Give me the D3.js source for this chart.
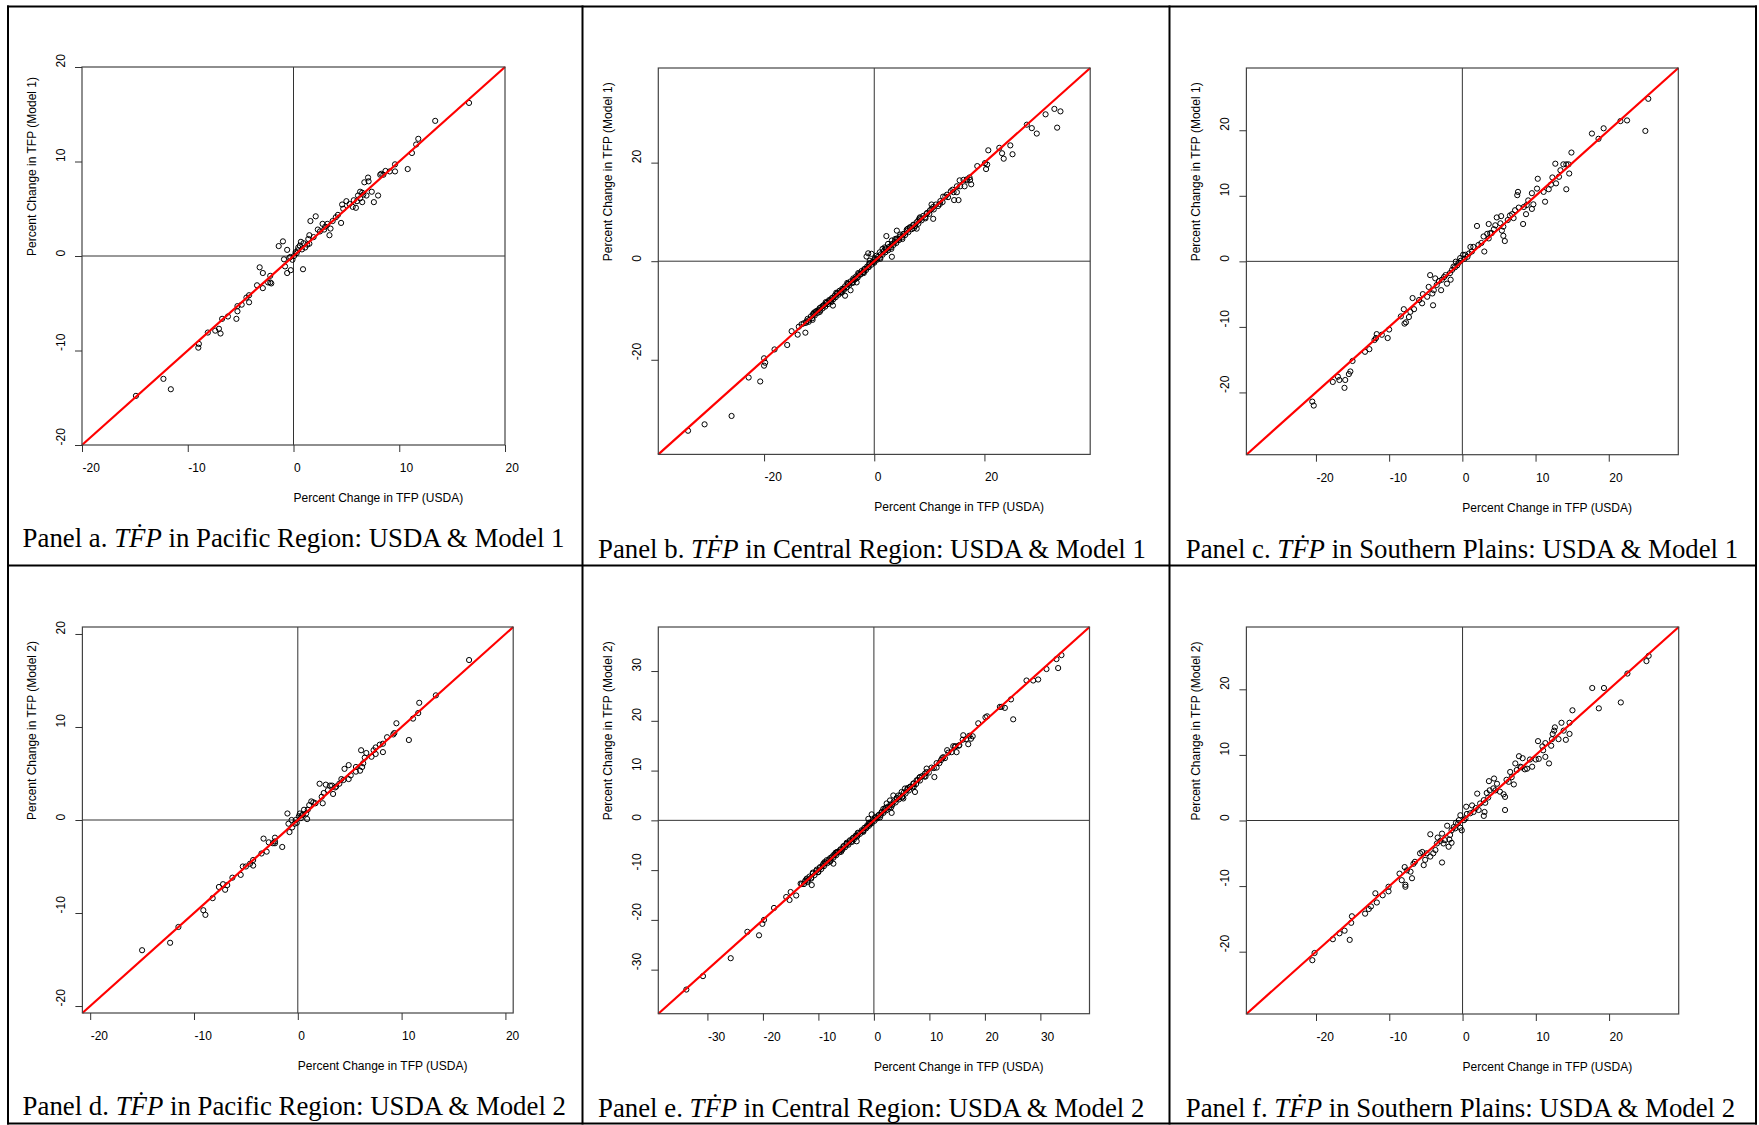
<!DOCTYPE html>
<html>
<head>
<meta charset="utf-8">
<script src="https://cdn.jsdelivr.net/npm/d3@7"></script>
<style>
  body { margin: 0; background: #fff; }
  text { font-family: "Liberation Sans", Arial, sans-serif; }
</style>
</head>
<body>
<svg id="chart" width="1759" height="1125"></svg>
<script>
// ---- data: [USDA, model] percent changes ----
const pacificM1 = [
  [16.6,16.2],[13.4,14.3],[11.8,12.4],[11.6,11.8],[11.2,10.9],[10.8,9.2],[9.6,9.7],[9.6,8.95],[9.1,8.95],[8.7,9.0],
  [8.3,8.7],[8.2,8.6],[7.05,8.3],[7.1,7.9],[7.4,6.8],[8.0,6.4],[7.6,5.7],[6.7,7.8],[6.5,6.7],[6.3,6.8],
  [6.1,6.4],[6.3,6.1],[6.5,5.7],[6.9,6.4],[6.0,5.8],[5.7,5.9],[5.6,5.2],[5.9,5.1],[5.0,5.8],[4.6,5.45],
  [4.7,5.0],[4.5,3.5],[4.2,4.35],[4.0,4.1],[3.7,3.7],[3.5,2.9],[3.4,2.2],[3.2,3.4],[2.9,2.8],[2.75,3.4],
  [2.5,2.6],[2.3,2.8],[2.1,4.2],[1.6,3.7],[1.5,2.2],[1.4,1.8],[1.3,1.2],[1.5,1.3],[0.95,1.35],[0.7,1.5],
  [0.6,1.1],[0.45,0.9],[0.4,0.6],[0.3,0.3],[0.05,0.0],[-0.1,-0.4],[-0.6,0.65],[-1.0,1.55],[-1.4,1.05],[-0.9,-0.35],
  [-0.3,-0.1],[-0.26,-1.5],[-0.6,-1.8],[-0.8,-1.1],[0.9,-1.4],[-3.2,-1.2],[-2.9,-1.8],[-2.2,-2.1],[-2.1,-2.9],[-2.2,-2.8],
  [-2.4,-2.8],[-3.45,-3.1],[-2.9,-3.4],[-4.2,-4.15],[-4.45,-4.4],[-4.2,-4.9],[-4.9,-5.15],[-5.3,-5.3],[-5.3,-5.85],[-6.2,-6.4],
  [-6.75,-6.65],[-5.4,-6.65],[-7.05,-7.7],[-7.4,-7.9],[-6.9,-8.2],[-8.1,-8.1],[-8.95,-9.3],[-9.0,-9.7],[-12.3,-13.0],[-11.6,-14.1],
  [-14.9,-14.8],[0.2,0.4],[0.8,0.7],[1.1,0.9],[3.0,3.1],[5.3,5.5],[6.6,6.5],[8.5,8.6],[-0.4,-0.2],[1.9,2.0]
];

const centralM1 = [
  [33.8,30.4],[32.7,30.9],[33.2,27.1],[31.1,29.8],[29.5,25.9],[28.6,27.0],[27.7,27.7],[24.7,23.5],[25.1,21.7],[23.5,20.8],
  [23.2,21.9],[22.7,23.0],[20.7,22.5],[20.3,18.7],[20.5,19.6],[20.1,19.9],[18.7,19.3],[17.6,15.6],[17.4,16.5],[16.8,16.6],
  [16.4,15.2],[15.5,16.4],[15.3,12.4],[14.5,12.4],[15.0,14.0],[14.2,14.5],[13.2,13.5],[12.5,13.1],[11.9,11.6],[10.7,11.0],
  [10.4,11.5],[10.7,8.6],[10.1,10.3],[9.5,9.6],[8.3,8.9],[8.0,8.25],[7.7,6.6],[7.1,7.4],[6.5,6.9],[5.9,6.4],
  [5.3,5.5],[4.7,5.4],[4.1,6.2],[3.8,4.5],[3.2,4.2],[2.2,5.1],[2.5,3.5],[1.9,2.8],[3.2,0.9],[1.5,2.5],
  [1.0,1.8],[0.4,1.1],[-0.2,-0.2],[-1.1,1.6],[-1.4,0.95],[-0.5,1.5],[-0.8,0.1],[-1.1,-1.2],[-1.7,-1.6],[-2.0,-2.2],
  [-2.6,-2.7],[-3.2,-3.4],[-3.2,-4.3],[-3.8,-3.8],[-4.3,-5.9],[-4.7,-4.6],[-5.3,-7.0],[-5.6,-5.6],[-6.2,-6.3],[-6.8,-6.6],
  [-7.5,-9.0],[-7.5,-7.4],[-8.1,-8.0],[-8.7,-8.5],[-9.3,-9.0],[-9.9,-9.5],[-10.5,-10.1],[-11.1,-10.7],[-11.2,-11.9],[-12.3,-12.2],
  [-12.5,-14.5],[-13.2,-12.8],[-13.7,-13.3],[-13.9,-14.9],[-15.0,-14.2],[-15.8,-17.0],[-18.1,-17.9],[-20.0,-19.7],[-19.8,-20.6],[-20.0,-21.2],
  [-22.8,-23.6],[-20.7,-24.4],[-25.9,-31.4],[-30.8,-33.1],[-33.8,-34.4],
  // dense band along the diagonal
  [-12.8,-12.6],[-12.4,-12.5],[-12.1,-11.7],[-11.8,-11.9],[-11.5,-11.2],[-11.3,-11.6],[-11.0,-10.8],[-10.8,-11.0],[-10.6,-10.3],[-10.3,-10.5],
  [-10.1,-9.9],[-9.8,-10.0],[-9.6,-9.3],[-9.4,-9.6],[-9.1,-8.9],[-8.9,-9.2],[-8.6,-8.4],[-8.4,-8.7],[-8.2,-7.9],[-7.9,-8.1],
  [-7.7,-7.5],[-7.4,-7.7],[-7.2,-7.0],[-7.0,-7.3],[-6.7,-6.5],[-6.5,-6.8],[-6.3,-6.0],[-6.0,-6.2],[-5.8,-5.6],[-5.5,-5.8],
  [-5.3,-5.1],[-5.0,-5.3],[-4.8,-4.6],[-4.5,-4.8],[-4.3,-4.1],[-4.0,-4.3],[-3.8,-3.5],[-3.5,-3.7],[-3.3,-3.1],[-3.0,-3.3],
  [-2.8,-2.6],[-2.5,-2.7],[-2.3,-2.0],[-2.0,-2.2],[-1.8,-1.6],[-1.5,-1.8],[-1.3,-1.1],[-1.0,-1.2],[-0.8,-0.5],[-0.5,-0.7],
  [-0.3,-0.1],[0.0,-0.3],[0.2,0.4],[0.5,0.3],[0.7,0.9],[1.0,0.7],[1.2,1.4],[1.5,1.3],[1.7,2.0],[2.0,1.8],
  [2.2,2.4],[2.5,2.2],[2.7,2.9],[3.0,2.8],[3.2,3.5],[3.5,3.3],[3.7,3.9],[4.0,3.7],[4.2,4.4],[4.5,4.3],
  [4.7,5.0],[5.0,4.8],[5.3,5.5],[5.6,5.3],[5.9,6.1],[6.2,5.9],[6.5,6.8],[6.8,6.5],[7.1,7.3],[7.4,7.1],
  [7.7,7.9],[8.0,7.6],[8.3,8.5],[8.6,8.3],[8.9,9.2],[9.2,8.9],[9.6,9.8],[10.0,9.6],[10.4,10.6],[10.8,10.5],
  [11.2,11.5],[11.6,11.2],[12.0,12.2],[12.4,12.0],[12.9,13.1],[13.4,13.0],[13.9,14.2],[14.4,14.0],[15.0,15.2],[15.6,15.2],
  [16.2,16.5],[16.8,16.4],[17.3,17.0],
  [-11.9,-12.3],[-10.9,-10.4],[-9.9,-10.3],[-8.8,-8.3],[-7.8,-8.3],[-6.9,-6.4],[-5.9,-6.4],[-4.9,-4.4],[-3.9,-4.4],[-2.9,-2.4],
  [-1.9,-2.4],[-0.9,-0.4],[0.1,0.6],[1.1,0.5],[2.1,2.6],[3.1,2.5],[4.1,4.6],[5.1,4.5],[6.1,6.6],[7.2,6.7],[8.2,8.7],[9.3,8.7]
];

const southernM1 = [
  [25.4,24.8],[25.0,19.9],[22.5,21.5],[21.6,21.4],[19.3,20.3],[18.6,18.7],[17.7,19.5],[14.9,16.6],[14.6,13.4],[14.2,11.0],
  [14.5,14.8],[14.2,14.8],[13.8,14.8],[13.4,13.9],[12.7,14.9],[13.2,12.9],[12.8,11.9],[12.3,12.8],[12.1,11.7],[11.8,11.0],
  [11.1,10.6],[11.3,9.1],[10.3,12.6],[10.2,11.1],[9.5,10.4],[9.7,8.7],[9.5,8.0],[8.8,8.6],[8.4,8.3],[8.7,7.2],
  [8.3,5.7],[7.6,10.6],[7.5,10.1],[7.7,8.2],[7.2,7.8],[7.0,6.6],[6.5,7.0],[6.2,6.3],[5.3,6.9],[4.7,6.7],
  [5.6,5.3],[5.6,3.9],[5.8,3.1],[5.4,4.7],[5.2,5.8],[4.5,5.5],[4.3,4.9],[3.6,5.7],[3.8,4.3],[3.4,4.2],
  [3.6,3.5],[2.9,3.8],[3.0,1.5],[2.0,5.4],[2.2,2.5],[1.5,2.2],[1.3,1.5],[1.1,2.2],[0.7,0.7],[0.4,1.0],
  [0.1,1.0],[-0.3,0.5],[-0.5,-0.2],[-0.9,-0.05],[-0.7,-0.6],[-1.2,-0.8],[-1.4,-1.3],[-1.6,-2.8],[-1.7,-1.8],[-2.3,-2.1],
  [-2.1,-3.4],[-2.8,-2.8],[-2.9,-4.4],[-3.5,-3.6],[-3.7,-2.6],[-3.9,-4.4],[-4.4,-2.1],[-4.1,-4.9],[-4.6,-3.9],[-4.0,-6.7],
  [-4.8,-5.4],[-5.4,-5.0],[-5.5,-6.4],[-5.9,-5.9],[-6.6,-7.3],[-6.8,-5.6],[-7.1,-7.7],[-7.3,-8.5],[-7.7,-9.3],[-7.9,-9.5],
  [-8.0,-7.3],[-8.4,-8.4],[-10.0,-10.4],[-10.2,-11.7],[-11.0,-11.2],[-11.7,-11.1],[-11.8,-11.7],[-12.0,-12.0],[-12.7,-13.4],[-13.3,-13.8],
  [-15.0,-15.2],[-15.3,-16.8],[-15.5,-17.2],[-16.0,-18.1],[-16.1,-19.3],[-16.8,-18.1],[-17.0,-17.6],[-17.7,-18.4],[-20.5,-21.4],[-20.3,-22.0],
  [0.3,0.4],[-0.2,0.1],[0.9,1.2],[-1.0,-0.9],[-2.5,-2.4],[-3.2,-3.0],[2.6,2.8],[4.0,4.3],[6.8,7.2],[9.0,9.3]
];

const pacificM2 = [
  [16.5,17.2],[13.3,13.4],[11.7,12.6],[11.6,11.5],[11.1,10.9],[10.7,8.6],[9.5,10.4],[9.3,9.35],[9.2,9.2],[8.6,8.9],
  [8.2,7.3],[8.2,8.2],[7.9,8.1],[7.5,7.8],[7.3,7.5],[7.5,7.1],[7.1,6.8],[6.6,7.2],[6.45,6.7],[6.1,7.5],
  [6.3,6.1],[6.2,5.7],[6.0,5.3],[5.6,5.7],[5.6,5.2],[5.1,4.8],[4.9,5.9],[4.5,5.5],[4.9,4.4],[4.4,4.3],
  [4.2,4.4],[4.0,3.9],[3.7,3.6],[3.3,3.7],[3.1,3.7],[3.4,2.8],[2.7,3.8],[2.9,3.2],[2.1,3.9],[2.5,2.9],
  [2.3,2.5],[2.4,1.8],[1.5,1.9],[1.3,2.0],[1.1,1.6],[0.96,1.1],[0.8,0.7],[0.6,1.1],[0.4,0.5],[0.2,0.7],
  [0.1,0.4],[0.9,0.1],[-0.2,0.0],[-0.3,-0.4],[-0.6,0.0],[-0.55,-0.8],[-0.8,-1.3],[-1.0,0.7],[-0.9,-0.4],[-1.5,-2.9],
  [-2.2,-1.9],[-2.2,-2.3],[-2.2,-2.5],[-2.4,-2.5],[-2.8,-2.4],[-3.3,-2.0],[-3.0,-3.4],[-3.5,-3.6],[-4.3,-4.3],[-4.3,-4.9],
  [-4.6,-4.7],[-5.0,-5.0],[-5.3,-5.0],[-5.5,-5.9],[-6.3,-6.2],[-6.8,-7.0],[-7.0,-7.5],[-7.2,-6.9],[-7.6,-7.2],[-8.2,-8.4],
  [-9.1,-9.7],[-8.9,-10.2],[-11.5,-11.5],[-12.3,-13.2],[-15.0,-14.0],[0.3,0.2],[0.5,0.6],[-0.1,-0.3],[1.7,1.8],[3.6,3.5]
];

const centralM2 = [
  [33.8,33.2],[32.9,32.4],[33.2,30.6],[31.1,30.4],[29.6,28.3],[28.7,28.1],[27.5,28.1],[25.1,20.3],[24.7,24.3],[23.6,22.6],
  [23.0,22.8],[22.7,22.8],[20.4,20.9],[20.1,20.7],[18.8,19.5],[17.8,16.9],[17.5,16.4],[17.0,15.3],[16.1,17.1],[15.4,15.1],
  [14.9,13.7],[14.6,14.8],[14.3,14.9],[13.2,14.1],[12.5,12.7],[12.1,12.1],[10.9,8.7],[11.3,10.6],[9.5,10.4],[9.2,9.4],
  [8.3,8.7],[7.7,8.05],[7.4,5.7],[7.1,7.4],[6.5,6.7],[5.6,6.4],[5.3,4.4],[5.0,5.7],[4.4,5.0],[3.5,5.0],
  [3.2,1.5],[2.9,4.0],[2.3,3.4],[1.7,2.3],[1.4,1.7],[0.8,1.0],[-0.4,1.2],[-1.0,0.3],[-0.7,-0.7],[-1.3,-1.3],
  [-1.9,-2.0],[-3.1,-4.2],[-3.1,-3.0],[-3.7,-3.5],[-4.3,-4.0],[-4.9,-4.8],[-5.5,-5.2],[-6.1,-6.0],[-6.7,-6.4],[-7.3,-8.7],
  [-7.3,-7.0],[-7.9,-7.6],[-8.5,-8.0],[-9.1,-8.7],[-9.7,-9.4],[-10.3,-9.9],[-11.2,-13.0],[-11.3,-11.7],[-12.1,-11.7],[-12.4,-12.2],
  [-13.2,-12.7],[-14.0,-15.1],[-15.0,-14.4],[-15.2,-16.0],[-15.8,-15.4],[-18.0,-17.6],[-19.8,-20.0],[-20.1,-20.8],[-22.8,-22.4],[-20.7,-23.1],
  [-25.8,-27.7],[-30.8,-31.3],[-33.8,-34.0],
  // dense band along the diagonal
  [-13.0,-12.8],[-12.6,-12.8],[-12.2,-11.9],[-11.9,-12.1],[-11.6,-11.3],[-11.3,-11.5],[-11.0,-10.7],[-10.7,-11.0],[-10.4,-10.2],[-10.1,-10.4],
  [-9.8,-9.6],[-9.5,-9.8],[-9.2,-9.0],[-9.0,-9.2],[-8.7,-8.5],[-8.4,-8.6],[-8.1,-7.9],[-7.8,-8.1],[-7.6,-7.4],[-7.3,-7.5],
  [-7.0,-6.8],[-6.8,-7.0],[-6.5,-6.3],[-6.2,-6.4],[-6.0,-5.8],[-5.7,-5.9],[-5.4,-5.2],[-5.2,-5.4],[-4.9,-4.7],[-4.6,-4.9],
  [-4.4,-4.2],[-4.1,-4.3],[-3.8,-3.6],[-3.6,-3.8],[-3.3,-3.1],[-3.0,-3.2],[-2.8,-2.6],[-2.5,-2.7],[-2.2,-2.0],[-2.0,-2.2],
  [-1.7,-1.5],[-1.4,-1.6],[-1.2,-1.0],[-0.9,-1.1],[-0.6,-0.4],[-0.4,-0.6],[-0.1,0.1],[0.1,-0.1],[0.4,0.6],[0.6,0.4],
  [0.9,1.1],[1.2,1.0],[1.4,1.6],[1.7,1.5],[2.0,2.2],[2.2,2.0],[2.5,2.7],[2.8,2.6],[3.0,3.2],[3.3,3.1],
  [3.6,3.8],[3.9,3.6],[4.2,4.4],[4.5,4.2],[4.8,5.0],[5.1,4.8],[5.4,5.6],[5.7,5.4],[6.0,6.2],[6.3,6.0],
  [6.6,6.8],[6.9,6.6],[7.2,7.4],[7.6,7.3],[7.9,8.1],[8.3,8.0],[8.7,8.9],[9.1,8.8],[9.5,9.7],[9.9,9.6],
  [10.4,10.6],[10.8,10.5],[11.3,11.5],[11.8,11.5],[12.3,12.5],[12.8,12.5],[13.4,13.6],[14.0,13.7],[14.7,14.9],[15.3,15.0],
  [16.0,16.2],[16.6,16.3],[17.2,17.0],
  [-12.0,-12.4],[-11.0,-10.5],[-10.0,-10.4],[-8.9,-8.4],[-7.9,-8.3],[-6.9,-6.5],[-5.9,-6.3],[-4.9,-4.5],[-3.9,-4.3],[-2.9,-2.5],
  [-1.9,-2.3],[-0.9,-0.5],[0.2,0.6],[1.1,0.6],[2.1,2.5],[3.1,2.6],[4.1,4.5],[5.1,4.6],[6.1,6.5],[7.2,6.8],[8.2,8.6],[9.3,8.8]
];

const southernM2 = [
  [25.4,25.1],[25.1,24.3],[22.5,22.4],[21.6,18.0],[19.3,20.2],[18.6,17.1],[17.7,20.2],[15.0,16.8],[14.6,14.9],[14.6,13.2],
  [14.1,12.3],[13.8,13.7],[13.5,14.9],[13.1,12.4],[12.6,14.2],[12.5,13.7],[12.3,13.2],[12.2,12.4],[12.1,11.4],[11.8,8.7],
  [11.3,9.7],[11.0,10.7],[11.3,11.8],[10.9,11.3],[10.3,12.1],[10.4,9.4],[10.0,9.3],[9.5,8.2],[9.2,9.3],[8.8,7.9],
  [8.5,7.8],[8.2,9.5],[7.7,9.8],[7.9,8.2],[7.4,7.7],[7.2,8.7],[6.5,7.4],[6.7,6.6],[7.0,5.5],[6.3,5.9],
  [5.8,1.6],[5.8,3.6],[5.6,4.0],[5.1,4.4],[4.3,6.4],[4.7,5.6],[4.2,4.9],[3.7,4.6],[3.3,4.2],[3.5,3.5],
  [3.1,2.7],[3.6,6.0],[2.9,3.1],[2.0,4.1],[2.4,2.6],[2.2,1.6],[3.0,1.3],[2.9,0.7],[1.3,2.3],[1.5,1.3],
  [1.05,1.1],[0.6,1.0],[0.5,2.1],[0.2,0.05],[-0.3,0.8],[-0.5,0.05],[-0.9,-0.35],[-0.1,-1.5],[-0.3,-1.1],[-1.2,-1.0],
  [-1.5,-1.5],[-2.1,-0.8],[-1.7,-2.2],[-1.8,-2.9],[-1.9,-4.0],[-1.5,-3.4],[-2.4,-3.0],[-2.8,-2.0],[-2.6,-3.5],[-3.4,-2.6],
  [-3.5,-3.5],[-3.7,-4.5],[-2.8,-6.4],[-4.4,-2.1],[-4.0,-5.0],[-4.4,-5.5],[-4.9,-5.0],[-5.1,-6.0],[-5.3,-6.8],[-5.5,-4.8],
  [-5.8,-5.0],[-6.5,-6.3],[-6.7,-6.6],[-6.9,-8.8],[-7.1,-7.8],[-7.6,-7.6],[-7.9,-7.1],[-7.8,-10.1],[-7.8,-9.8],[-8.3,-9.1],
  [-8.6,-8.1],[-10.1,-10.1],[-10.1,-10.8],[-10.9,-11.4],[-11.7,-12.5],[-11.9,-11.1],[-12.5,-13.1],[-12.8,-13.5],[-13.3,-14.2],[-15.1,-14.6],
  [-15.2,-15.6],[-15.4,-18.2],[-16.1,-16.8],[-16.8,-17.2],[-17.7,-18.1],[-20.2,-20.2],[-20.5,-21.3],
  [0.4,0.3],[-0.6,-0.4],[1.8,1.9],[-1.0,-1.2],[4.5,4.6],[6.0,6.2],[-3.0,-3.1],[8.0,8.1]
];

const ticks10 = [-20, -10, 0, 10, 20];
const ticks20 = [-20, 0, 20];
const ticks30 = [-30, -20, -10, 0, 10, 20, 30];
const regions = ["Pacific Region", "Central Region", "Southern Plains"];
const models = ["Model 1", "Model 2"];
const letters = ["a", "b", "c", "d", "e", "f"];

// ---- layout (pixel boxes of each plotting region) ----
const panels = [
  { data: pacificM1,  lim: 20,    ticks: ticks10, x0: 82,    x1: 505,   y0: 67,  y1: 445,    capX: 22.6, capY: 547 },
  { data: centralM1,  lim: 39.2,  ticks: ticks20, x0: 658.3, x1: 1090.2, y0: 68, y1: 454.4,  capX: 598,  capY: 558 },
  { data: southernM1, lim: 29.5,  ticks: ticks10, x0: 1246.4, x1: 1678.3, y0: 68, y1: 454.7, capX: 1185.8, capY: 558 },
  { data: pacificM2,  lim: 20.75, ticks: ticks10, x0: 82.4,  x1: 513.2, y0: 627, y1: 1013,   capX: 22.6, capY: 1115 },
  { data: centralM2,  lim: 38.85, ticks: ticks30, x0: 658.3, x1: 1089.5, y0: 627, y1: 1013.7, capX: 598, capY: 1117 },
  { data: southernM2, lim: 29.5,  ticks: ticks10, x0: 1246.4, x1: 1678.7, y0: 627, y1: 1014, capX: 1185.8, capY: 1117 }
];

const svg = d3.select("#chart");
svg.append("rect").attr("width", 1759).attr("height", 1125).attr("fill", "#fff");

panels.forEach((p, i) => {
  const region = regions[i % 3];
  const model = models[Math.floor(i / 3)];

  const x = d3.scaleLinear().domain([-p.lim, p.lim]).range([p.x0, p.x1]);
  const y = d3.scaleLinear().domain([-p.lim, p.lim]).range([p.y1, p.y0]);

  const g = svg.append("g");

  // zero reference lines
  g.append("line")
    .attr("x1", x(0)).attr("x2", x(0)).attr("y1", p.y0).attr("y2", p.y1)
    .attr("stroke", "#333").attr("stroke-width", 1);
  g.append("line")
    .attr("x1", p.x0).attr("x2", p.x1).attr("y1", y(0)).attr("y2", y(0))
    .attr("stroke", "#333").attr("stroke-width", 1);

  // points
  g.selectAll("circle")
    .data(p.data)
    .enter()
    .append("circle")
    .attr("cx", d => x(d[0]))
    .attr("cy", d => y(d[1]))
    .attr("r", 2.6)
    .attr("fill", "none")
    .attr("stroke", "#000")
    .attr("stroke-width", 1);

  // 45 degree line
  g.append("line")
    .attr("x1", x(-p.lim)).attr("y1", y(-p.lim))
    .attr("x2", x(p.lim)).attr("y2", y(p.lim))
    .attr("stroke", "#ff0000").attr("stroke-width", 2.2);

  // box
  g.append("rect")
    .attr("x", p.x0).attr("y", p.y0)
    .attr("width", p.x1 - p.x0).attr("height", p.y1 - p.y0)
    .attr("fill", "none").attr("stroke", "#444").attr("stroke-width", 1.2);

  // bottom axis
  g.append("g")
    .attr("transform", `translate(0,${p.y1})`)
    .call(d3.axisBottom(x).tickValues(p.ticks).tickSize(7).tickFormat(d => String(d)))
    .call(a => a.select(".domain").remove())
    .call(a => a.selectAll("line").attr("stroke", "#333"))
    .call(a => a.selectAll("text")
      .attr("y", 27).attr("dy", 0).attr("text-anchor", "start")
      .attr("font-size", 12).attr("fill", "#000"));

  // left axis
  g.append("g")
    .attr("transform", `translate(${p.x0},0)`)
    .call(d3.axisLeft(y).tickValues(p.ticks).tickSize(7).tickFormat(d => String(d)))
    .call(a => a.select(".domain").remove())
    .call(a => a.selectAll("line").attr("stroke", "#333"))
    .call(a => a.selectAll("text")
      .attr("x", 0).attr("y", -17).attr("dy", 0).attr("text-anchor", "start")
      .attr("transform", "rotate(-90)")
      .attr("font-size", 12).attr("fill", "#000"));

  // axis titles
  g.append("text")
    .attr("x", x(0)).attr("y", p.y1 + 57)
    .attr("font-size", 12)
    .text("Percent Change in TFP (USDA)");
  g.append("text")
    .attr("transform", `translate(${p.x0 - 46},${y(0)}) rotate(-90)`)
    .attr("font-size", 12)
    .text(`Percent Change in TFP (${model})`);

  // caption
  const cap = g.append("text")
    .attr("x", p.capX).attr("y", p.capY)
    .attr("font-size", 26.8)
    .style("font-family", "'Liberation Serif', 'Times New Roman', serif");
  cap.append("tspan").text(`Panel ${letters[i]}. `);
  cap.append("tspan").attr("font-style", "italic").text("T\u1E1EP");
  cap.append("tspan").text(` in ${region}: USDA & ${model}`);
});

// table frame
const vLines = [8, 582.5, 1169.5, 1756];
const hLines = [6.5, 565.5, 1123.5];
vLines.forEach(v => svg.append("line")
  .attr("x1", v).attr("x2", v).attr("y1", 5.5).attr("y2", 1124.5)
  .attr("stroke", "#000").attr("stroke-width", 2));
hLines.forEach(h => svg.append("line")
  .attr("x1", 7).attr("x2", 1757).attr("y1", h).attr("y2", h)
  .attr("stroke", "#000").attr("stroke-width", 2));
</script>
</body>
</html>
